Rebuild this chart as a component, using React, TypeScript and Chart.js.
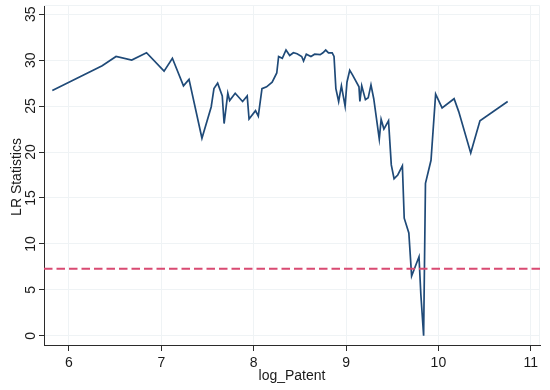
import React, { useEffect, useRef } from 'react';
import { Chart, registerables } from 'chart.js';

Chart.register(...registerables);

const logPatent = [
  5.82, 6.36, 6.51, 6.68, 6.84, 7.03, 7.12, 7.24, 7.30, 7.44,
  7.54, 7.57, 7.61, 7.66, 7.68, 7.72, 7.74, 7.80, 7.88, 7.93,
  7.95, 8.02, 8.05, 8.09, 8.14, 8.20, 8.25, 8.27, 8.31, 8.35,
  8.39, 8.43, 8.47, 8.52, 8.54, 8.57, 8.62, 8.66, 8.72, 8.75,
  8.78, 8.81, 8.85, 8.87, 8.89, 8.92, 8.95, 8.99, 9.01, 9.04,
  9.07, 9.14, 9.15, 9.17, 9.21, 9.24, 9.27, 9.30, 9.36, 9.38,
  9.41, 9.46, 9.49, 9.52, 9.56, 9.61, 9.63, 9.68, 9.71, 9.79,
  9.81, 9.84, 9.86, 9.92, 9.97, 10.04, 10.17, 10.22, 10.35, 10.45,
  10.75,
];

const lrStatistics = [
  26.7, 29.4, 30.4, 30.0, 30.8, 28.8, 30.2, 27.2, 27.9, 21.5,
  24.9, 26.9, 27.5, 26.1, 23.1, 26.4, 25.6, 26.4, 25.5, 26.1,
  23.6, 24.5, 23.9, 26.9, 27.1, 27.6, 28.6, 30.4, 30.2, 31.1,
  30.5, 30.8, 30.7, 30.4, 29.9, 30.65, 30.4, 30.65, 30.6, 30.8,
  31.1, 30.8, 30.8, 30.4, 26.9, 25.5, 27.2, 25.0, 27.6, 28.9,
  28.4, 27.1, 25.5, 27.2, 25.7, 25.9, 27.3, 25.8, 21.4, 23.55,
  22.5, 23.4, 18.6, 17.1, 17.5, 18.5, 12.8, 11.2, 6.5, 8.6,
  4.5, 0.0, 16.6, 19.1, 26.3, 24.8, 25.8, 24.4, 19.9, 23.4,
  25.5,
];

const criticalValue = 7.3;
const xTickValues = [6, 7, 8, 9, 10, 11];
const yTickValues = [0, 5, 10, 15, 20, 25, 30, 35];
const xBounds = [5.73, 11.1];
const yBounds = [-1, 36];
const xTitle = 'log_Patent';
const yTitle = 'LR Statistics';

const FONT = '"Liberation Sans", Arial, Helvetica, sans-serif';
const TEXT = '#1a1a1a';
const AXIS = '#2b2b2b';
const GRID = '#eff3f5';

export default function App() {
  const ref = useRef<HTMLCanvasElement>(null);

  useEffect(() => {
    if (!ref.current) return;

    const textPlugin = {
      id: 'stataText',
      beforeDatasetsDraw(chart: any) {
        const { ctx, chartArea: a } = chart;
        ctx.save();
        ctx.strokeStyle = GRID;
        ctx.lineWidth = 1;
        ctx.beginPath();
        ctx.moveTo(a.left, a.top + 0.5);
        ctx.lineTo(a.right - 0.5, a.top + 0.5);
        ctx.lineTo(a.right - 0.5, a.bottom);
        ctx.stroke();
        ctx.restore();
      },
      afterDraw(chart: any) {
        const { ctx, chartArea: a } = chart;
        const ys = chart.scales.y;
        ctx.save();
        ctx.fillStyle = TEXT;
        ctx.font = `14px ${FONT}`;
        ctx.textAlign = 'center';
        ctx.textBaseline = 'alphabetic';
        for (const t of yTickValues) {
          const py = ys.getPixelForValue(t);
          ctx.save();
          ctx.translate(35, py);
          ctx.rotate(-Math.PI / 2);
          ctx.fillText(String(t), 0, 0);
          ctx.restore();
        }
        ctx.save();
        ctx.translate(20.5, (a.top + a.bottom) / 2 + 2);
        ctx.rotate(-Math.PI / 2);
        ctx.fillText(yTitle, 0, 0);
        ctx.restore();
        ctx.fillText(xTitle, (a.left + a.right) / 2, 380);
        ctx.restore();
      },
    };

    const chart = new Chart(ref.current, {
      type: 'scatter',
      data: {
        datasets: [
          {
            label: 'critical',
            data: xBounds.map((x) => ({ x, y: criticalValue })),
            showLine: true,
            borderColor: '#d94a72',
            borderWidth: 1.8,
            borderDash: [8.5, 4],
            pointRadius: 0,
            order: 0,
          },
          {
            label: 'LR',
            data: logPatent.map((x, i) => ({ x, y: lrStatistics[i] })),
            showLine: true,
            borderColor: '#1f4a78',
            borderWidth: 1.7,
            pointRadius: 0,
            tension: 0,
            order: 1,
          },
        ],
      },
      options: {
        responsive: false,
        animation: false,
        layout: { padding: { top: 5, right: 10, left: 0, bottom: 0 } },
        plugins: { legend: { display: false }, tooltip: { enabled: false } },
        scales: {
          x: {
            type: 'linear',
            min: xBounds[0],
            max: xBounds[1],
            afterBuildTicks: (s: any) => {
              s.ticks = xTickValues.map((v) => ({ value: v }));
            },
            afterFit: (s: any) => {
              s.height = 45;
            },
            ticks: {
              color: TEXT,
              font: { family: FONT, size: 14 },
              padding: 4,
              maxRotation: 0,
              autoSkip: false,
              callback: (v: any) => String(v),
            },
            grid: { color: GRID, tickColor: AXIS, tickLength: 6, drawTicks: true },
            border: { color: AXIS, width: 1 },
          },
          y: {
            type: 'linear',
            min: yBounds[0],
            max: yBounds[1],
            afterBuildTicks: (s: any) => {
              s.ticks = yTickValues.map((v) => ({ value: v }));
            },
            afterFit: (s: any) => {
              s.width = 44;
            },
            ticks: { display: false },
            grid: { color: GRID, tickColor: AXIS, tickLength: 5, drawTicks: true },
            border: { color: AXIS, width: 1 },
          },
        },
      },
      plugins: [textPlugin],
    });

    return () => chart.destroy();
  }, []);

  return (
    <div style={{ position: 'absolute', left: 0, top: 0, width: 550, height: 390, background: '#fff' }}>
      <canvas ref={ref} width={550} height={390} />
    </div>
  );
}
